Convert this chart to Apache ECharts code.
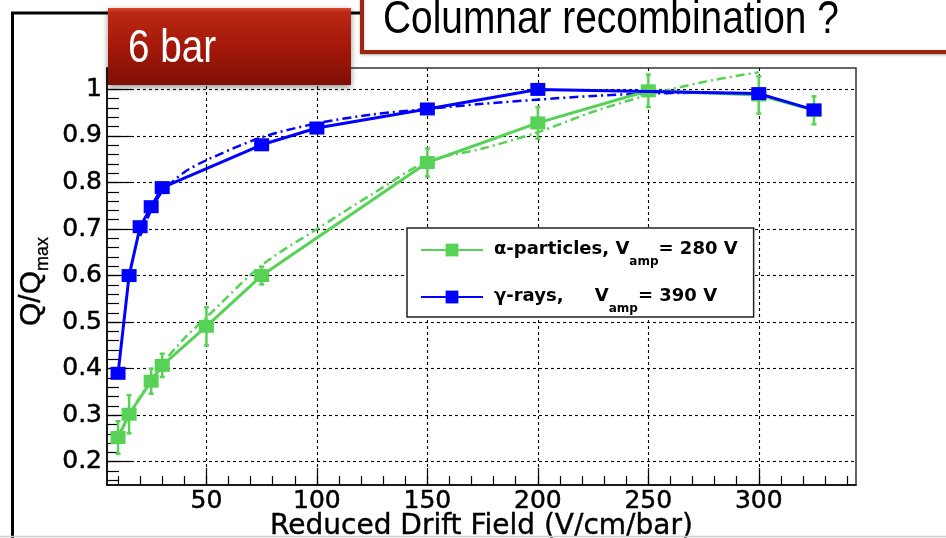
<!DOCTYPE html>
<html>
<head>
<meta charset="utf-8">
<script src="https://cdn.jsdelivr.net/npm/echarts@6/dist/echarts.min.js"></script>
<style>
html,body{margin:0;padding:0;background:#fff;}
#c{width:946px;height:538px;}
</style>
</head>
<body>
<div id="c"></div>
<script>
// ---- data ----
const xTickValues = [50, 100, 150, 200, 250, 300];
const xMinorTickValues = [10, 20, 30, 40, 50, 60, 70, 80, 90, 100, 110, 120, 130, 140, 150, 160, 170, 180, 190, 200, 210, 220, 230, 240, 250, 260, 270, 280, 290, 300, 310, 320, 330, 340];
const yTickValues = [0.2, 0.3, 0.4, 0.5, 0.6, 0.7, 0.8, 0.9, 1.0];
const yMinorTickValues = [0.16, 0.18, 0.2, 0.22, 0.24, 0.26, 0.28, 0.3, 0.32, 0.34, 0.36, 0.38, 0.4, 0.42, 0.44, 0.46, 0.48, 0.5, 0.52, 0.54, 0.56, 0.58, 0.6, 0.62, 0.64, 0.66, 0.68, 0.7, 0.72, 0.74, 0.76, 0.78, 0.8, 0.82, 0.84, 0.86, 0.88, 0.9, 0.92, 0.94, 0.96, 0.98, 1.0, 1.02, 1.04];

const alphaX = [10, 15, 25, 30, 50, 75, 150, 200, 250, 300, 325];
const alphaY = [0.252, 0.302, 0.373, 0.407, 0.491, 0.600, 0.843, 0.928, 0.997, 0.988, 0.955];
const alphaErr = [0.035, 0.041, 0.027, 0.025, 0.041, 0.019, 0.03, 0.034, 0.035, 0.04, 0.03];

const gammaX = [10, 15, 20, 25, 30, 75, 100, 150, 200, 300, 325];
const gammaY = [0.39, 0.60, 0.705, 0.748, 0.789, 0.881, 0.917, 0.958, 1.0, 0.991, 0.956];

const alphaFitX = [10, 20, 30, 40, 50, 75, 100, 125, 150, 175, 200, 225, 250, 275, 300];
const alphaFitY = [0.255, 0.34, 0.41, 0.465, 0.51, 0.622, 0.70, 0.775, 0.845, 0.873, 0.908, 0.952, 0.988, 1.016, 1.037];

const gammaFitX = [20, 25, 30, 40, 50, 75, 100, 125, 150, 175, 200, 225, 250, 275];
const gammaFitY = [0.685, 0.74, 0.78, 0.822, 0.848, 0.897, 0.927, 0.946, 0.958, 0.969, 0.978, 0.986, 0.991, 0.993];

const xName = 'Reduced Drift Field (V/cm/bar)';
const alphaName = 'alpha';
const gammaName = 'gamma';

// ---- styles ----
const GREEN = '#57d257';
const BLUE = '#0000ff';
const tickFont = 'DejaVu Sans';

const zip = (xs, ys) => xs.map((x, i) => [x, ys[i]]);

const chart = echarts.init(document.getElementById('c'), null, {renderer: 'canvas'});

const gridLine = {show: true, lineStyle: {color: '#000', width: 1.1, type: [3, 3]}};
const labelStyle = {fontFamily: tickFont, fontSize: 25, color: '#000', textBorderColor: '#000', textBorderWidth: 0.5};

const option = {
  animation: false,
  backgroundColor: '#fff',
  grid: {left: 107, top: 68, right: 90, bottom: 53, show: true, borderColor: '#333', borderWidth: 1.5,
    backgroundColor: 'transparent', containLabel: false, outerBoundsMode: 'none'},
  xAxis: [
    {
      type: 'value', min: 5, max: 344, position: 'bottom',
      axisLine: {show: true, onZero: false, lineStyle: {color: '#000', width: 1.5}},
      axisTick: {show: true, inside: true, length: 17, customValues: xTickValues, lineStyle: {color: '#000', width: 1.2}},
      axisLabel: Object.assign({show: true, customValues: xTickValues, margin: 4}, labelStyle),
      splitLine: gridLine,
      name: xName, nameLocation: 'middle', nameGap: 28, nameMoveOverlap: false,
      nameTextStyle: {fontFamily: tickFont, fontSize: 28, color: '#000', textBorderColor: '#000', textBorderWidth: 0.4}
    },
    {
      type: 'value', min: 5, max: 344, position: 'bottom', offset: 0,
      axisLine: {show: false},
      axisTick: {show: true, inside: true, length: 9, customValues: xMinorTickValues, lineStyle: {color: '#000', width: 1.2}},
      axisLabel: {show: false},
      splitLine: {show: false}
    }
  ],
  yAxis: [
    {
      type: 'value', min: 0.15, max: 1.046, position: 'left',
      axisLine: {show: true, onZero: false, lineStyle: {color: '#000', width: 1.5}},
      axisTick: {show: true, inside: true, length: 24, customValues: yTickValues, lineStyle: {color: '#000', width: 1.2}},
      axisLabel: Object.assign({show: true, customValues: yTickValues, margin: 5,
        formatter: v => (Math.abs(v - 1) < 1e-9 ? '1' : v.toFixed(1))}, labelStyle),
      splitLine: gridLine,
      name: '{q|Q/Q}{m|max}{sp| }', nameLocation: 'middle', nameGap: 62, nameRotate: 90, nameMoveOverlap: false,
      nameTextStyle: {
        color: '#000',
        rich: {
          q: {fontFamily: 'Liberation Sans', fontSize: 30, lineHeight: 28, padding: [0, 0, 0, 0], verticalAlign: 'top', color: '#000', textBorderColor: '#000', textBorderWidth: 0.4},
          m: {fontFamily: 'Liberation Sans', fontSize: 18, lineHeight: 14, padding: [17, 0, 0, 0], verticalAlign: 'top', color: '#000', textBorderColor: '#000', textBorderWidth: 0.3},
          sp: {width: 10, fontSize: 10, lineHeight: 10, padding: [0, 0, 0, 0]}
        }
      }
    },
    {
      type: 'value', min: 0.15, max: 1.046, position: 'left', offset: 0,
      axisLine: {show: false},
      axisTick: {show: true, inside: true, length: 12, customValues: yMinorTickValues, lineStyle: {color: '#000', width: 1.2}},
      axisLabel: {show: false},
      splitLine: {show: false}
    }
  ],
  legend: {
    data: [alphaName, gammaName],
    orient: 'vertical',
    left: 407, top: 228,
    padding: [12, 16, 2, 13],
    itemGap: 19,
    itemWidth: 62, itemHeight: 16,
    backgroundColor: '#fff',
    borderColor: '#222', borderWidth: 1.5, borderRadius: 0,
    formatter: name => name === alphaName
      ? '{f|α-particles, V}{s|amp}{t|= 280 V}'
      : '{f|γ-rays,     V}{s|amp}{t|= 390 V}',
    textStyle: {
      rich: {
        f: {fontFamily: tickFont, fontWeight: 'bold', fontSize: 18, lineHeight: 20, padding: [0, 0, 0, 6], verticalAlign: 'top', color: '#000'},
        t: {fontFamily: tickFont, fontWeight: 'bold', fontSize: 18, lineHeight: 20, padding: [0, 0, 0, 0], verticalAlign: 'top', color: '#000'},
        s: {fontFamily: tickFont, fontWeight: 'bold', fontSize: 12, lineHeight: 12, padding: [16, 0, 0, 0], verticalAlign: 'top', color: '#000'}
      }
    }
  },
  series: [
    {
      name: 'alphaFit', type: 'line', xAxisIndex: 0, yAxisIndex: 0,
      data: zip(alphaFitX, alphaFitY), showSymbol: false, smooth: 0.3, z: 2,
      lineStyle: {color: GREEN, width: 2.5, type: [9, 4, 2, 4]}
    },
    {
      name: 'gammaFit', type: 'line', xAxisIndex: 0, yAxisIndex: 0,
      data: zip(gammaFitX, gammaFitY), showSymbol: false, smooth: 0.3, z: 2,
      lineStyle: {color: BLUE, width: 2.5, type: [9, 4, 2, 4]}
    },
    {
      name: 'alphaErr', type: 'custom', xAxisIndex: 0, yAxisIndex: 0, z: 3,
      data: alphaX.map((x, i) => [x, alphaY[i] - alphaErr[i], alphaY[i] + alphaErr[i]]),
      renderItem: (params, api) => {
        const lo = api.coord([api.value(0), api.value(1)]);
        const hi = api.coord([api.value(0), api.value(2)]);
        const c = 2.5;
        const st = {stroke: GREEN, lineWidth: 2.5};
        return {type: 'group', children: [
          {type: 'line', shape: {x1: lo[0], y1: lo[1], x2: hi[0], y2: hi[1]}, style: st},
          {type: 'line', shape: {x1: lo[0] - c, y1: lo[1], x2: lo[0] + c, y2: lo[1]}, style: st},
          {type: 'line', shape: {x1: hi[0] - c, y1: hi[1], x2: hi[0] + c, y2: hi[1]}, style: st}
        ]};
      }
    },
    {
      name: alphaName, type: 'line', xAxisIndex: 0, yAxisIndex: 0, z: 4,
      data: zip(alphaX, alphaY), symbol: 'rect', symbolSize: [15, 13],
      lineStyle: {color: GREEN, width: 3}, itemStyle: {color: GREEN}
    },
    {
      name: gammaName, type: 'line', xAxisIndex: 0, yAxisIndex: 0, z: 5,
      data: zip(gammaX, gammaY), symbol: 'rect', symbolSize: [15, 13],
      lineStyle: {color: BLUE, width: 3}, itemStyle: {color: BLUE}
    }
  ],
  graphic: [
    {type: 'polyline', z: 90, shape: {points: [[12.5, 540], [12.5, 13], [370, 13]]}, style: {stroke: '#000', lineWidth: 3, fill: null}},
    {type: 'line', z: 90, shape: {x1: 0, y1: 536.5, x2: 946, y2: 536.5}, style: {stroke: '#d0d0d0', lineWidth: 1.5}},
    {type: 'rect', z: 100, shape: {x: 108, y: 8, width: 243, height: 77},
      style: {
        fill: new echarts.graphic.LinearGradient(0, 0, 0, 1, [
          {offset: 0, color: '#d9492d'}, {offset: 0.06, color: '#b92813'},
          {offset: 0.5, color: '#a4180a'}, {offset: 1, color: '#7f0f05'}
        ]),
        shadowBlur: 6, shadowColor: 'rgba(0,0,0,0.45)', shadowOffsetY: 2
      }},
    {type: 'text', z: 101, x: 128, y: 49, scaleX: 0.84,
      style: {text: '6 bar', font: '46px "Liberation Sans", Arial, sans-serif', fill: '#fff', verticalAlign: 'middle', align: 'left'}},
    {type: 'rect', z: 100, shape: {x: 362, y: -10, width: 600, height: 62},
      style: {fill: '#fff', stroke: '#9c2813', lineWidth: 4, shadowBlur: 3, shadowColor: 'rgba(0,0,0,0.3)', shadowOffsetY: 1}},
    {type: 'text', z: 101, x: 383, y: 20, scaleX: 0.845,
      style: {text: 'Columnar recombination ?', font: '46px "Liberation Sans", Arial, sans-serif', fill: '#000', verticalAlign: 'middle', align: 'left'}}
  ]
};

chart.setOption(option);
</script>
</body>
</html>
